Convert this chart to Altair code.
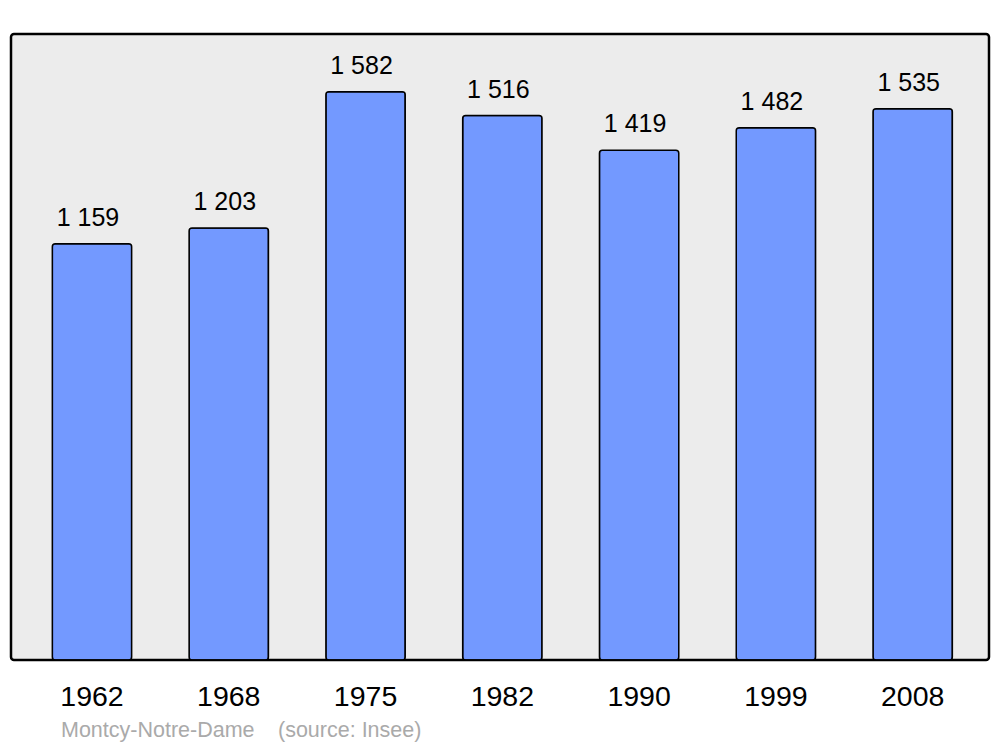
import altair as alt
import pandas as pd

years = ["1962", "1968", "1975", "1982", "1990", "1999", "2008"]
population = [1159, 1203, 1582, 1516, 1419, 1482, 1535]
labels = ["1 159", "1 203", "1 582", "1 516", "1 419", "1 482", "1 535"]

df = pd.DataFrame({"year": years, "pop": population, "label": labels})

x = alt.X("year:N", sort=years, title=None,
          scale=alt.Scale(paddingInner=0.42, paddingOuter=0.285, align=0.53),
          axis=alt.Axis(labelAngle=0, labelFontSize=28.5, labelFont="Liberation Sans",
                        labelColor="black", domain=False, ticks=False, labelPadding=22))
y = alt.Y("pop:Q", title=None, scale=alt.Scale(domain=[0, 1743], nice=False),
          axis=None)

bars = alt.Chart(df).mark_bar(color="#7399ff", stroke="black", strokeWidth=1.5,
                              cornerRadius=3).encode(x=x, y=y)
text = alt.Chart(df).mark_text(dy=-18, dx=-4, baseline="alphabetic", fontSize=25,
                               font="Liberation Sans", color="black").encode(
    x=alt.X("year:N", sort=years), y="pop:Q", text="label:N")

foot1 = alt.Chart(pd.DataFrame({"t": ["Montcy-Notre-Dame"]})).mark_text(
    align="left", baseline="alphabetic", fontSize=21.5, font="Liberation Sans",
    color="#aaaaaa").encode(x=alt.value(50), y=alt.value(703), text="t:N")
foot2 = alt.Chart(pd.DataFrame({"t": ["(source: Insee)"]})).mark_text(
    align="left", baseline="alphabetic", fontSize=21.5, font="Liberation Sans",
    color="#aaaaaa").encode(x=alt.value(267), y=alt.value(703), text="t:N")

chart = alt.layer(bars, text, foot1, foot2).properties(
    width=978, height=626, background="white",
    autosize=alt.AutoSizeParams(type="none"),
    padding={"left": 3, "top": 26, "right": 3, "bottom": 86},
).configure_view(fill="#ececec", stroke="black", strokeWidth=2.5, cornerRadius=3)

chart.save("out.html", embed_options={"renderer": "svg", "actions": False})
